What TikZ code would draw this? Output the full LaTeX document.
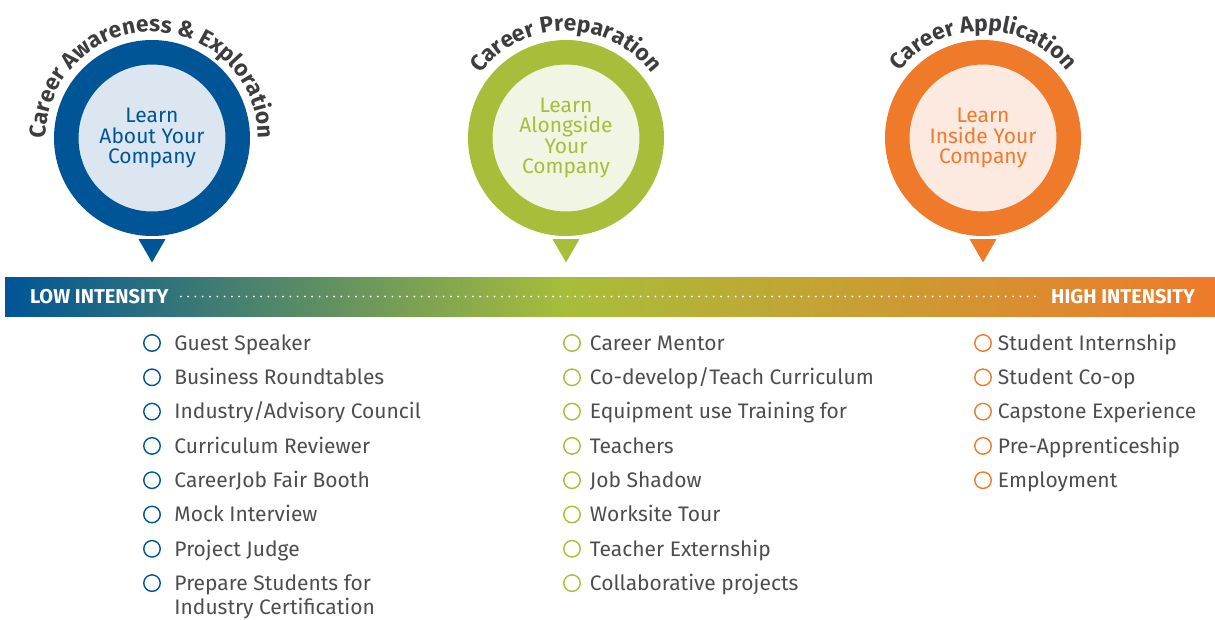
\documentclass[tikz,border=0pt]{standalone}
\usepackage{fontspec}
\setmainfont{Fira Sans}
\usetikzlibrary{positioning, shapes.geometric, decorations.text}

\definecolor{cblue}{HTML}{005596}
\definecolor{cbluelight}{HTML}{DCE6F0}
\definecolor{cgreen}{HTML}{A8BD3A}
\definecolor{cgreenlight}{HTML}{F1F5E3}
\definecolor{corange}{HTML}{EF7A2A}
\definecolor{corangelight}{HTML}{FCE9DF}
\definecolor{titlegray}{HTML}{3D3D3F}
\definecolor{itemgray}{HTML}{4D4D4F}

\pgfdeclarehorizontalshading{intensity}{100bp}{color(0bp)=(cblue); color(25bp)=(cblue); color(48.2bp)=(cgreen); color(75bp)=(corange); color(100bp)=(corange)}

\newcommand{\ringfont}{\fontsize{21}{20.5}\selectfont}
\newcommand{\titlefont}{\fontsize{22.7}{22.7}\selectfont\bfseries}
\newcommand{\itemfont}{\fontsize{21}{21}\selectfont}
\newcommand{\bandfont}{\fontsize{20}{20}\selectfont\bfseries}

\tikzset{%
  ring/.style={circle, draw=c#1, fill=c#1light, text=c#1, line width=24.5pt,
    minimum size=171.5pt, inner sep=0pt, align=center, font=\ringfont},
  tip/.style={regular polygon, regular polygon sides=3, shape border rotate=180,
    fill=c#1, minimum size=31pt, inner sep=0pt},
  title/.style={decorate, decoration={text along path, text align=center,
    text color=titlegray, text={|\titlefont|#1}}},
  band/.style={rectangle, shading=intensity, minimum width=1210pt,
    minimum height=39pt, inner sep=0pt},
  band text/.style={text=white, font=\bandfont, inner sep=0pt},
  dots/.style={white, line width=2pt, line cap=round, dash pattern=on 0pt off 7.3pt},
  bullet/.style={circle, draw=c#1, line width=1.4pt, minimum size=16.5pt,
    inner sep=0pt, outer sep=0pt},
  item/.style={text=itemgray, font=\itemfont, inner sep=0pt, text height=14.5pt,
    text depth=0pt}
}

\begin{document}
\begin{tikzpicture}[x=1pt, y=1pt, node distance=17.8pt]
  \useasboundingbox (0,0) rectangle (1215,-619);

  % the three stages
  \node[ring=blue] (aware) at (152,-138) {Learn\\About Your\\Company};
  \node[ring=green, right=218pt of aware] (prep) {Learn\\Alongside\\Your\\Company};
  \node[ring=orange, right=221pt of prep] (apply) {Learn\\Inside Your\\Company};

  \node[tip=blue, below=3pt of aware] (aware-tip) {};
  \node[tip=green, below=3pt of prep] (prep-tip) {};
  \node[tip=orange, below=3pt of apply] (apply-tip) {};

  \path[title={Career Awareness {\&} Exploration}]
    ([shift={(200:106)}]aware.center) arc[start angle=200, end angle=-20, radius=106];
  \path[title={Career Preparation}]
    ([shift={(170:107)}]prep.center) arc[start angle=170, end angle=10, radius=107];
  \path[title={Career Application}]
    ([shift={(170:107)}]apply.center) arc[start angle=170, end angle=10, radius=107];

  % intensity scale
  \node[band] (bar) at (610,-296.5) {};
  \node[band text, right=25pt of bar.west] (low) {LOW INTENSITY};
  \node[band text, left=20pt of bar.east] (high) {HIGH INTENSITY};
  \draw[dots] ([xshift=12pt]low.east) -- ([xshift=-13pt]high.west);

  % awareness list
  \node[bullet=blue] (a1) at (152,-343) {};
  \node[bullet=blue, below=of a1] (a2) {};
  \node[bullet=blue, below=of a2] (a3) {};
  \node[bullet=blue, below=of a3] (a4) {};
  \node[bullet=blue, below=of a4] (a5) {};
  \node[bullet=blue, below=of a5] (a6) {};
  \node[bullet=blue, below=of a6] (a7) {};
  \node[bullet=blue, below=of a7] (a8) {};
  \node[item, right=14pt of a1] (ta1) {Guest Speaker};
  \node[item, right=14pt of a2] (ta2) {Business Roundtables};
  \node[item, right=14pt of a3] (ta3) {Industry/Advisory Council};
  \node[item, right=14pt of a4] (ta4) {Curriculum Reviewer};
  \node[item, right=14pt of a5] (ta5) {CareerJob Fair Booth};
  \node[item, right=14pt of a6] (ta6) {Mock Interview};
  \node[item, right=14pt of a7] (ta7) {Project Judge};
  \node[item, right=14pt of a8] (ta8) {Prepare Students for};
  \node[item, below=9.5pt of ta8.south west, anchor=north west] (ta9) {Industry Certification};

  % preparation list
  \node[bullet=green] (p1) at (572,-343) {};
  \node[bullet=green, below=of p1] (p2) {};
  \node[bullet=green, below=of p2] (p3) {};
  \node[bullet=green, below=of p3] (p4) {};
  \node[bullet=green, below=of p4] (p5) {};
  \node[bullet=green, below=of p5] (p6) {};
  \node[bullet=green, below=of p6] (p7) {};
  \node[bullet=green, below=of p7] (p8) {};
  \node[item, right=9.5pt of p1] (tp1) {Career Mentor};
  \node[item, right=9.5pt of p2] (tp2) {Co-develop/Teach Curriculum};
  \node[item, right=9.5pt of p3] (tp3) {Equipment use Training for};
  \node[item, right=9.5pt of p4] (tp4) {Teachers};
  \node[item, right=9.5pt of p5] (tp5) {Job Shadow};
  \node[item, right=9.5pt of p6] (tp6) {Worksite Tour};
  \node[item, right=9.5pt of p7] (tp7) {Teacher Externship};
  \node[item, right=9.5pt of p8] (tp8) {Collaborative projects};

  % application list
  \node[bullet=orange] (c1) at (983,-343) {};
  \node[bullet=orange, below=of c1] (c2) {};
  \node[bullet=orange, below=of c2] (c3) {};
  \node[bullet=orange, below=of c3] (c4) {};
  \node[bullet=orange, below=of c4] (c5) {};
  \node[item, right=6.5pt of c1] (tc1) {Student Internship};
  \node[item, right=6.5pt of c2] (tc2) {Student Co-op};
  \node[item, right=6.5pt of c3] (tc3) {Capstone Experience};
  \node[item, right=6.5pt of c4] (tc4) {Pre-Apprenticeship};
  \node[item, right=6.5pt of c5] (tc5) {Employment};
\end{tikzpicture}
\end{document}
